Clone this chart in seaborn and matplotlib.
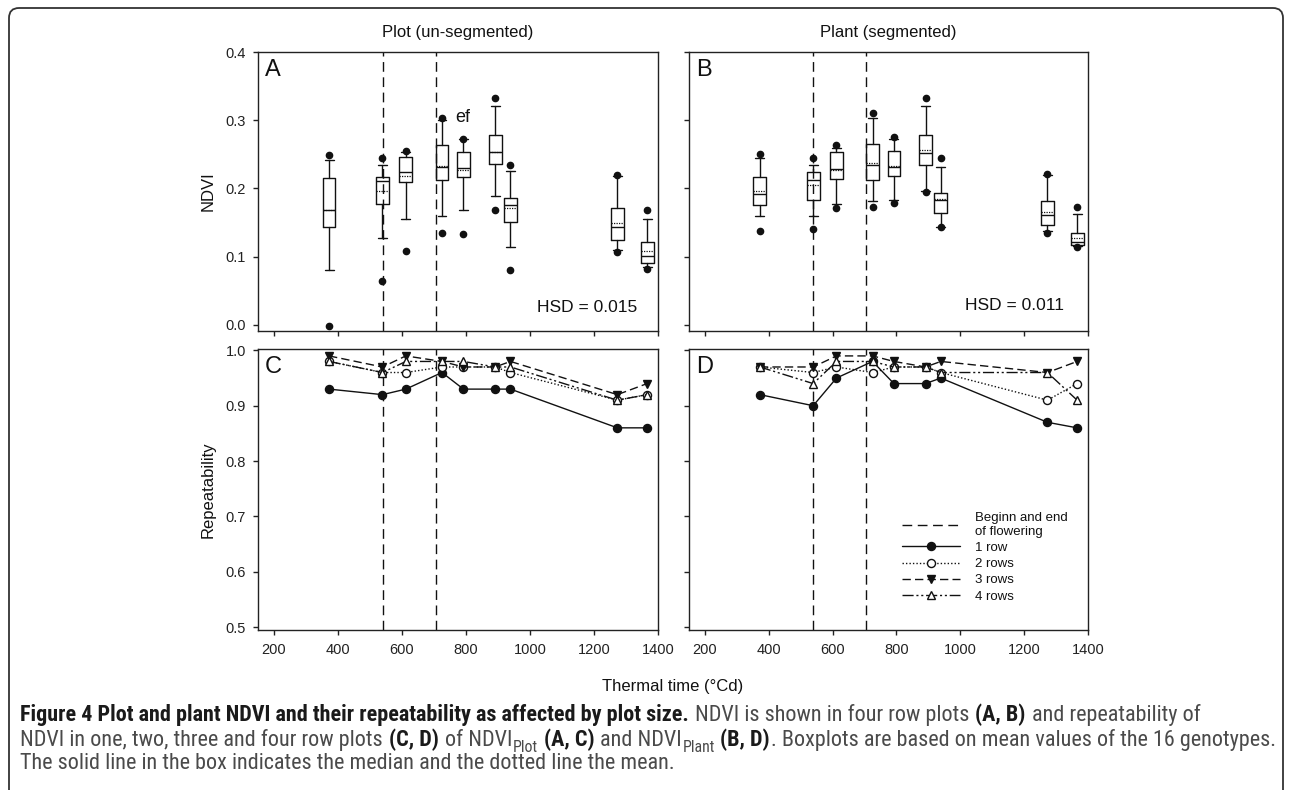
import os
import numpy as np
import pandas as pd
import matplotlib
matplotlib.use("Agg")
import matplotlib.pyplot as plt
import seaborn as sns
from matplotlib.lines import Line2D
from matplotlib.patches import FancyBboxPatch
from matplotlib.transforms import IdentityTransform
from matplotlib import font_manager
from matplotlib.font_manager import FontProperties

# ---------------- data ----------------
thermal_time = [372, 539, 612, 725, 792, 891, 939, 1273, 1366]
flowering = [540, 705]
x_ticks = [200, 400, 600, 800, 1000, 1200, 1400]
ndvi_ticks = [0.0, 0.1, 0.2, 0.3, 0.4]
rep_ticks = [0.5, 0.6, 0.7, 0.8, 0.9, 1.0]

# Panel A: plot (un-segmented) NDVI box statistics
a_whislo = [0.080, 0.128, 0.155, 0.160, 0.169, 0.189, 0.114, 0.110, 0.085]
a_q1 = [0.144, 0.177, 0.209, 0.213, 0.217, 0.236, 0.151, 0.125, 0.090]
a_med = [0.168, 0.211, 0.224, 0.232, 0.230, 0.253, 0.176, 0.143, 0.101]
a_mean = [0.168, 0.196, 0.218, 0.233, 0.227, 0.254, 0.171, 0.150, 0.108]
a_q3 = [0.215, 0.217, 0.246, 0.264, 0.254, 0.279, 0.186, 0.172, 0.121]
a_whishi = [0.242, 0.234, 0.254, 0.300, 0.272, 0.321, 0.225, 0.218, 0.155]
a_out_low = [-0.002, 0.065, 0.108, 0.135, 0.133, 0.168, 0.080, 0.107, 0.082]
a_out_high = [0.249, 0.244, 0.255, 0.303, 0.273, 0.332, 0.235, 0.219, 0.169]

# Panel B: plant (segmented) NDVI box statistics
b_whislo = [0.160, 0.160, 0.177, 0.181, 0.183, 0.196, 0.144, 0.137, 0.115]
b_q1 = [0.176, 0.183, 0.214, 0.212, 0.218, 0.235, 0.164, 0.146, 0.117]
b_med = [0.192, 0.212, 0.228, 0.235, 0.232, 0.252, 0.183, 0.161, 0.122]
b_mean = [0.196, 0.205, 0.227, 0.238, 0.233, 0.256, 0.184, 0.166, 0.127]
b_q3 = [0.217, 0.224, 0.254, 0.265, 0.255, 0.279, 0.194, 0.181, 0.134]
b_whishi = [0.244, 0.234, 0.259, 0.303, 0.272, 0.321, 0.232, 0.220, 0.162]
b_out_low = [0.138, 0.141, 0.172, 0.173, 0.179, 0.195, 0.143, 0.135, 0.114]
b_out_high = [0.251, 0.244, 0.263, 0.310, 0.276, 0.333, 0.245, 0.221, 0.173]

# Panel C: repeatability of plot NDVI
c_1row = [0.93, 0.92, 0.93, 0.96, 0.93, 0.93, 0.93, 0.86, 0.86]
c_2rows = [0.98, 0.96, 0.96, 0.97, 0.97, 0.97, 0.96, 0.91, 0.92]
c_3rows = [0.99, 0.97, 0.99, 0.98, 0.97, 0.97, 0.98, 0.92, 0.94]
c_4rows = [0.98, 0.96, 0.98, 0.98, 0.98, 0.97, 0.97, 0.91, 0.92]

# Panel D: repeatability of plant NDVI
d_1row = [0.92, 0.90, 0.95, 0.98, 0.94, 0.94, 0.95, 0.87, 0.86]
d_2rows = [0.97, 0.96, 0.97, 0.96, 0.97, 0.97, 0.96, 0.91, 0.94]
d_3rows = [0.97, 0.97, 0.99, 0.99, 0.98, 0.97, 0.98, 0.96, 0.98]
d_4rows = [0.97, 0.94, 0.98, 0.98, 0.97, 0.97, 0.96, 0.96, 0.91]

series_labels = ["1 row", "2 rows", "3 rows", "4 rows"]
flowering_label = "Beginn and end\nof flowering"

# ---------------- style ----------------
sns.set_theme(style="ticks")
plt.rcParams['font.family'] = ['Liberation Sans', 'DejaVu Sans']
plt.rcParams.update({
    'axes.linewidth': 1.0,
    'axes.edgecolor': '#222222',
    'xtick.major.size': 3.6, 'ytick.major.size': 3.6,
    'xtick.major.width': 1.0, 'ytick.major.width': 1.0,
    'xtick.direction': 'out', 'ytick.direction': 'out',
    'xtick.color': '#222222', 'ytick.color': '#222222',
    'xtick.labelsize': 10.5, 'ytick.labelsize': 10.5,
    'xtick.major.pad': 6, 'ytick.major.pad': 5,
    'text.color': '#111111', 'axes.labelcolor': '#111111',
})

W, H = 1292, 790
fig = plt.figure(figsize=(W / 100, H / 100), dpi=100)
fig.patch.set_facecolor('white')


def add_ax(l, t, r, b):
    return fig.add_axes([l / W, 1 - b / H, (r - l) / W, (b - t) / H])


axA = add_ax(258, 52, 658, 331)
axB = add_ax(689, 52, 1088, 331)
axC = add_ax(258, 349, 658, 630)
axD = add_ax(689, 349, 1088, 630)


def make_stats(whislo, q1, med, mean, q3, whishi, olo, ohi):
    return [dict(whislo=a, q1=b, med=c, mean=d, q3=e, whishi=f, fliers=[g, h])
            for a, b, c, d, e, f, g, h in zip(whislo, q1, med, mean, q3, whishi, olo, ohi)]


box_kw = dict(positions=thermal_time, widths=40, capwidths=28, showmeans=True,
              meanline=True, manage_ticks=False, patch_artist=False,
              boxprops=dict(color='#111111', lw=1.0),
              whiskerprops=dict(color='#111111', lw=1.0),
              capprops=dict(color='#111111', lw=1.0),
              medianprops=dict(color='#111111', lw=1.0),
              meanprops=dict(color='#111111', lw=0.9, ls=(0, (1, 1))),
              flierprops=dict(marker='o', mfc='#111111', mec='#111111', ms=4.5, ls='none'))

axA.bxp(make_stats(a_whislo, a_q1, a_med, a_mean, a_q3, a_whishi, a_out_low, a_out_high), **box_kw)
axB.bxp(make_stats(b_whislo, b_q1, b_med, b_mean, b_q3, b_whishi, b_out_low, b_out_high), **box_kw)

styles = [
    dict(marker='o', markerfacecolor='#111111', linestyle='-', markersize=5.8),
    dict(marker='o', markerfacecolor='white', linestyle=(0, (1, 1.5)), markersize=5.8),
    dict(marker='v', markerfacecolor='#111111', linestyle=(0, (6, 3)), markersize=6.3),
    dict(marker='^', markerfacecolor='white', linestyle=(0, (8, 2, 1.5, 2, 1.5, 2)), markersize=6.3),
]

for ax, series in [(axC, [c_1row, c_2rows, c_3rows, c_4rows]),
                   (axD, [d_1row, d_2rows, d_3rows, d_4rows])]:
    for vals, st in zip(series, styles):
        sns.lineplot(x=thermal_time, y=vals, ax=ax, color='#111111', lw=1.0,
                     markeredgecolor='#111111', markeredgewidth=1.0,
                     errorbar=None, legend=False, **st)

dash_style = (0, (7, 4))
for ax in (axA, axB, axC, axD):
    for f in flowering:
        ax.axvline(f, color='#111111', lw=1.0, ls=dash_style, zorder=0.5)
    ax.set_xlim(150, 1400)
    ax.set_xticks(x_ticks)
    ax.tick_params(top=False, right=False)
    for s in ax.spines.values():
        s.set_visible(True)
        s.set_color('#222222')
    ax.set_xlabel('')
    ax.set_ylabel('')

for ax in (axA, axB):
    ax.set_ylim(-0.009, 0.4)
    ax.set_yticks(ndvi_ticks)
    ax.set_yticklabels([f"{v:.1f}" for v in ndvi_ticks])
    ax.tick_params(labelbottom=False)
for ax in (axC, axD):
    ax.set_ylim(0.4946, 1.0025)
    ax.set_yticks(rep_ticks)
    ax.set_yticklabels([f"{v:.1f}" for v in rep_ticks])
    ax.set_xticklabels([str(v) for v in x_ticks])
for ax in (axB, axD):
    ax.tick_params(labelleft=False)

axA.set_ylabel('NDVI', fontsize=12)
axC.set_ylabel('Repeatability', fontsize=12)
axA.yaxis.set_label_coords(-0.105, 0.5)
axC.yaxis.set_label_coords(-0.105, 0.5)

axA.set_title('Plot (un-segmented)', fontsize=12, pad=11)
axB.set_title('Plant (segmented)', fontsize=12, pad=11)

for ax, letter in [(axA, 'A'), (axB, 'B'), (axC, 'C'), (axD, 'D')]:
    ax.text(0.018, 0.975, letter, transform=ax.transAxes, fontsize=17,
            ha='left', va='top')

axA.text(0.948, 0.068, 'HSD = 0.015', transform=axA.transAxes, fontsize=12.5,
         ha='right', va='baseline')
axB.text(0.940, 0.075, 'HSD = 0.011', transform=axB.transAxes, fontsize=12.5,
         ha='right', va='baseline')
axA.text(791, 0.297, 'ef', fontsize=13, ha='center', va='baseline')

fig.text(673 / W, 1 - 687 / H, 'Thermal time (°Cd)', fontsize=12, ha='center', va='center')

# legend
handles = [Line2D([], [], color='#111111', lw=1.0, ls=dash_style)]
for st in styles:
    handles.append(Line2D([], [], color='#111111', lw=1.0, markeredgecolor='#111111',
                          markeredgewidth=1.0, **st))
axD.legend(handles, [flowering_label] + series_labels, loc='upper left',
           bbox_to_anchor=(0.534, 0.42), frameon=False, fontsize=9.5,
           handlelength=4.4, handletextpad=1.1, labelspacing=0.3,
           borderpad=0, borderaxespad=0)

# ---------------- caption ----------------
def find_font_file(candidates):
    files = {os.path.basename(f.fname).lower(): f.fname for f in font_manager.fontManager.ttflist}
    for c in candidates:
        if c in files:
            return files[c]
    return None


reg_file = find_font_file(['liberationsansnarrow-regular.ttf', 'robotocondensed-regular.ttf',
                           'opensans-condensedlight.ttf', 'dejavusanscondensed.ttf'])
bold_file = find_font_file(['liberationsansnarrow-bold.ttf', 'robotocondensed-bold.ttf',
                            'opensans-condensedbold.ttf', 'dejavusanscondensed-bold.ttf'])


def cap_props(kind, size):
    bold = kind == 'b'
    s = size * (0.72 if kind == 's' else 1.0)
    f = bold_file if bold else reg_file
    if f is not None:
        return FontProperties(fname=f, size=s)
    return FontProperties(family=['Liberation Sans', 'DejaVu Sans'],
                          weight='bold' if bold else 'normal', size=s)


caption_lines = [
    [("Figure 4 Plot and plant NDVI and their repeatability as affected by plot size.", 'b', False),
     ("NDVI is shown in four row plots", 'n', True), ("(A, B)", 'b', True),
     ("and repeatability of", 'n', True)],
    [("NDVI in one, two, three and four row plots", 'n', False), ("(C, D)", 'b', True),
     ("of NDVI", 'n', True), ("Plot", 's', False), ("(A, C)", 'b', True),
     ("and NDVI", 'n', True), ("Plant", 's', False), ("(B, D)", 'b', True),
     (". Boxplots are based on mean values of the 16 genotypes.", 'n', False)],
    [("The solid line in the box indicates the median and the dotted line the mean.", 'n', False)],
]
caption_baselines = [H - 721, H - 746, H - 769]

renderer = fig.canvas.get_renderer()


def text_w(s, fp):
    t = fig.text(0, 0, s, fontproperties=fp, transform=IdentityTransform())
    w = t.get_window_extent(renderer).width
    t.remove()
    return w


def draw_line(segments, y, size):
    x = 20.0
    arts = []
    for text, kind, gap in segments:
        fp = cap_props(kind, size)
        if gap:
            x += text_w('n n', fp) - text_w('nn', fp)
        yy = y - (0.28 * size * 100 / 72 if kind == 's' else 0)
        t = fig.text(x, yy, text, fontproperties=fp,
                     color='#1a1a1a' if kind == 'b' else '#4a4a4a',
                     ha='left', va='baseline', transform=IdentityTransform())
        x = t.get_window_extent(renderer).x1 + (1 if kind != 's' else 0)
        arts.append(t)
    return arts, x


arts, end = draw_line(caption_lines[1], caption_baselines[1], 12)
for a in arts:
    a.remove()
cap_size = max(8.5, min(17.0, 12 * (1275 - 20) / (end - 20)))
for segs, yb in zip(caption_lines, caption_baselines):
    draw_line(segs, yb, cap_size)

border = FancyBboxPatch((9, -30), 1274, H - 8 + 30, boxstyle='round,pad=0,rounding_size=10',
                        transform=IdentityTransform(), fill=False, ec='#333333', lw=1.3)
fig.add_artist(border)

fig.savefig('out.png', dpi=100, facecolor='white')
